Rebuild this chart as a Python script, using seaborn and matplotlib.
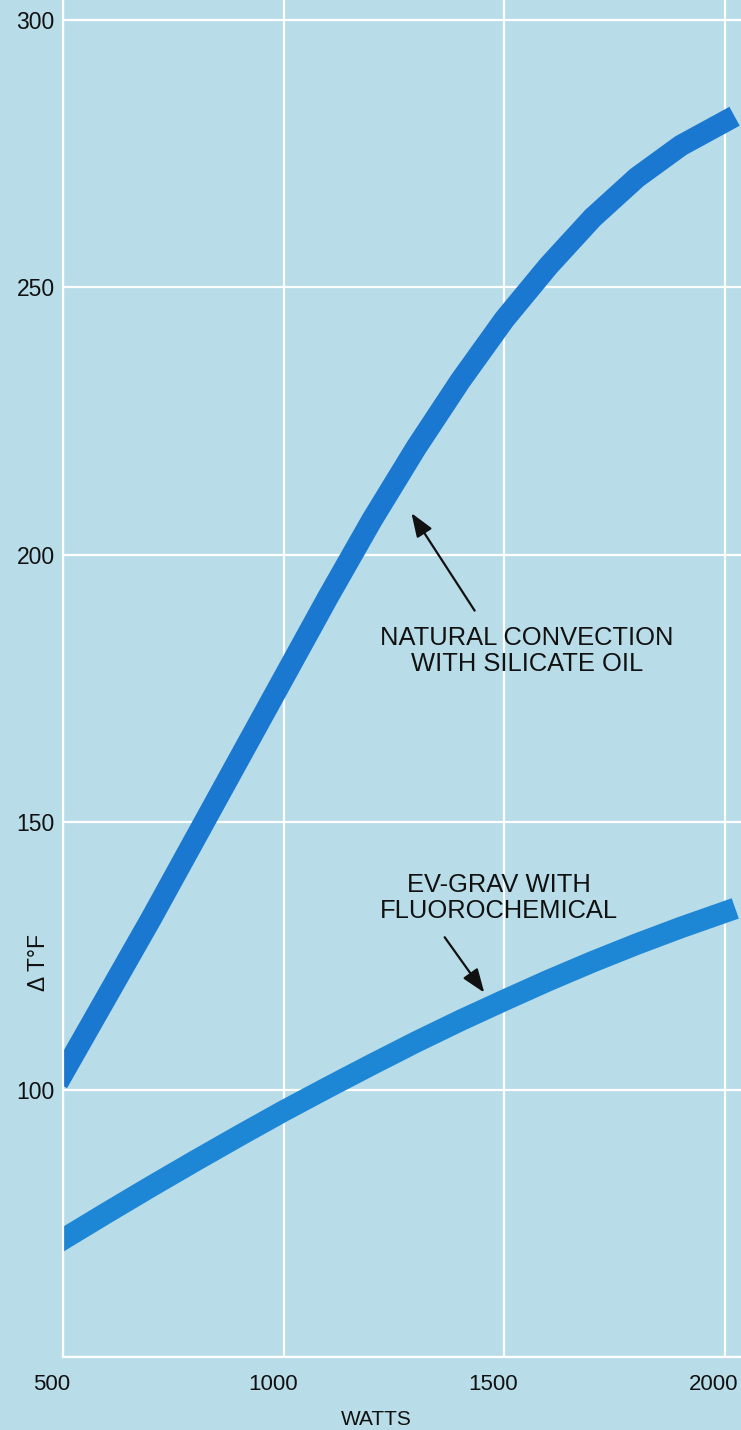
import numpy as np
import pandas as pd
import matplotlib
matplotlib.use('Agg')
import matplotlib.pyplot as plt
import matplotlib.transforms as mtransforms
import seaborn as sns

# values (watts vs temperature rise, deg F)
watts = [500, 600, 700, 800, 900, 1000, 1100, 1200, 1300, 1400, 1500,
         1600, 1700, 1800, 1900, 2000]
convection = [103, 117.5, 132, 147, 162, 177, 192, 206.5, 220, 232.5, 244,
              254, 263, 270.5, 276.5, 281]
ev_grav = [72, 77, 81.9, 86.7, 91.4, 96.0, 100.4, 104.7, 108.9, 112.9, 116.7,
           120.4, 123.9, 127.2, 130.3, 133.2]

x_ticks = [500, 1000, 1500, 2000]
x_labels = ['500', '1000', '1500', '2000']
y_ticks = [50, 100, 150, 200, 250, 300]
y_labels = ['', '100', '150', '200', '250', '300']

bg = '#b8dde9'
sns.set_theme(style='whitegrid')
plt.rcParams['font.family'] = ['Liberation Sans', 'DejaVu Sans']

fig = plt.figure(figsize=(7.41, 14.30), dpi=100)
fig.patch.set_facecolor(bg)
ax = fig.add_axes([63 / 741, 73 / 1430, 678 / 741, 1357 / 1430])
ax.set_facecolor(bg)

df = pd.DataFrame({'watts': watts, 'convection': convection, 'ev_grav': ev_grav})
sns.lineplot(data=df, x='watts', y='convection', ax=ax, color='#1a78d1',
             linewidth=15.5, solid_capstyle='projecting', solid_joinstyle='round')
sns.lineplot(data=df, x='watts', y='ev_grav', ax=ax, color='#1e87d5',
             linewidth=15.5, solid_capstyle='projecting', solid_joinstyle='round')

ax.set_xlim(500, 2036)
ax.set_ylim(50, 303.7)
ax.set_xticks(x_ticks)
ax.set_xticklabels(x_labels, fontsize=16, color='#111111')
ax.set_yticks(y_ticks)
ax.set_yticklabels(y_labels, fontsize=16.5, color='#111111')
ax.tick_params(axis='both', length=0)
ax.tick_params(axis='x', pad=12)
ax.tick_params(axis='y', pad=6)
for lbl in ax.get_xticklabels():
    lbl.set_transform(lbl.get_transform() +
                      mtransforms.ScaledTranslation(-11 / 100, 0, fig.dpi_scale_trans))

ax.grid(True, color='white', linewidth=1.6)
ax.set_axisbelow(True)
for side in ['top', 'right']:
    ax.spines[side].set_visible(False)
for side in ['left', 'bottom']:
    ax.spines[side].set_color('white')
    ax.spines[side].set_linewidth(1.6)

ax.set_xlabel('WATTS', fontsize=15, color='#111111')
ax.xaxis.set_label_coords(0.4617, -0.0464)
ax.xaxis.label.set_va('center')
ax.set_ylabel('Δ T°F', fontsize=16.5, color='#111111')
ax.yaxis.set_label_coords(-0.0354, 0.291)
ax.yaxis.label.set_va('center')

ax.text(1551, 182.0, 'NATURAL CONVECTION\nWITH SILICATE OIL', fontsize=18.4,
        ha='center', va='center', linespacing=1.15, color='#111111')
ax.annotate('', xy=(1286, 208.2), xytext=(1436, 189.1),
            arrowprops=dict(arrowstyle='-|>,head_length=1.2,head_width=0.45',
                            color='#111111', lw=1.6))

ax.text(1488, 135.8, 'EV-GRAV WITH\nFLUOROCHEMICAL', fontsize=18.4,
        ha='center', va='center', linespacing=1.15, color='#111111')
ax.annotate('', xy=(1458, 117.7), xytext=(1361, 128.9),
            arrowprops=dict(arrowstyle='-|>,head_length=1.2,head_width=0.45',
                            color='#111111', lw=1.6))

fig.savefig('out.png', dpi=100, facecolor=bg)
